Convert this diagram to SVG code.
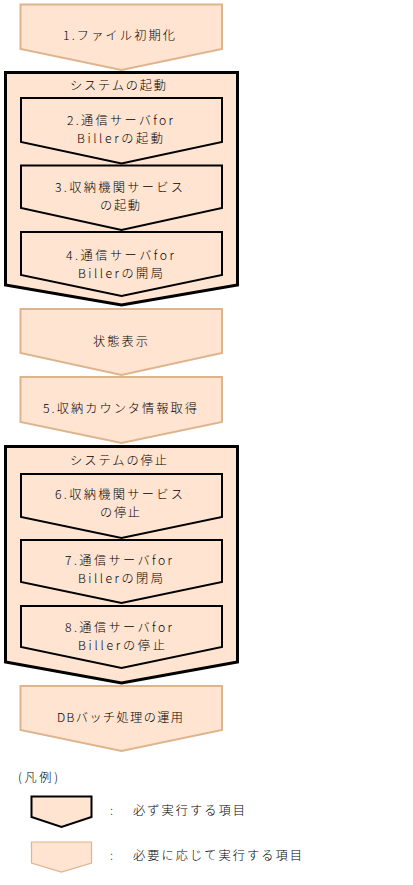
<svg xmlns="http://www.w3.org/2000/svg" width="413" height="885" viewBox="0 0 413 885">
<style>
.opt{fill:#FFE4D1;stroke:#DEB48C;stroke-width:2}
.req{fill:#FFE4D1;stroke:#000;stroke-width:2}
.grp{fill:#FFE4D1;stroke:#000;stroke-width:3}
text{font-family:"Noto Sans CJK JP","Noto Sans",sans-serif;font-size:12.2px;font-weight:300;fill:#000}
</style>
<rect width="413" height="885" fill="#fff"/>
<g id="connectors"/>
<g id="n1">
<path class="opt" d="M20.5,4.5H222V49L121.5,70L20.5,49Z"/>
<text x="63" y="40" textLength="112" lengthAdjust="spacing">1.ファイル初期化</text>
</g>
<g id="g1">
<path class="grp" d="M5.5,72.5H237.5V285L121.5,305L5.5,285Z"/>
<text x="70" y="90" textLength="96" lengthAdjust="spacing">システムの起動</text>
</g>
<g id="n2">
<path class="req" d="M21,98H222V142L121.5,163.5L21,142Z"/>
<text x="67" y="125" textLength="106" lengthAdjust="spacing">2.通信サーバfor</text>
<text x="77" y="143" textLength="86" lengthAdjust="spacing">Billerの起動</text>
</g>
<g id="n3">
<path class="req" d="M21,165.5H222V208L121.5,230L21,208Z"/>
<text x="55" y="192" textLength="128" lengthAdjust="spacing">3.収納機関サービス</text>
<text x="100" y="210" textLength="40" lengthAdjust="spacing">の起動</text>
</g>
<g id="n4">
<path class="req" d="M21,232H222V275L121.5,296L21,275Z"/>
<text x="66" y="260" textLength="108" lengthAdjust="spacing">4.通信サーバfor</text>
<text x="78" y="278" textLength="85" lengthAdjust="spacing">Billerの開局</text>
</g>
<g id="n_status">
<path class="opt" d="M20.5,309H222V353L121.5,375L20.5,353Z"/>
<text x="93" y="346" textLength="55" lengthAdjust="spacing">状態表示</text>
</g>
<g id="n5">
<path class="opt" d="M20.5,377H222V422L121.5,443L20.5,422Z"/>
<text x="43" y="413" textLength="154" lengthAdjust="spacing">5.収納カウンタ情報取得</text>
</g>
<g id="g2">
<path class="grp" d="M5.5,446.5H237.5V662L121.5,683L5.5,662Z"/>
<text x="70" y="465" textLength="97" lengthAdjust="spacing">システムの停止</text>
</g>
<g id="n6">
<path class="req" d="M21,474H222V517L121.5,538L21,517Z"/>
<text x="55" y="499" textLength="128" lengthAdjust="spacing">6.収納機関サービス</text>
<text x="100" y="517" textLength="40" lengthAdjust="spacing">の停止</text>
</g>
<g id="n7">
<path class="req" d="M21,540H222V582L121.5,603L21,582Z"/>
<text x="65" y="565" textLength="107" lengthAdjust="spacing">7.通信サーバfor</text>
<text x="78" y="583" textLength="85" lengthAdjust="spacing">Billerの閉局</text>
</g>
<g id="n8">
<path class="req" d="M21,606H222V647L121.5,668L21,647Z"/>
<text x="65" y="632" textLength="107" lengthAdjust="spacing">8.通信サーバfor</text>
<text x="78" y="650" textLength="87" lengthAdjust="spacing">Billerの停止</text>
</g>
<g id="n_db">
<path class="opt" d="M20.5,686H222V730L121.5,751L20.5,730Z"/>
<text x="57" y="722" textLength="126" lengthAdjust="spacing">DBバッチ処理の運用</text>
</g>
<g id="legend">
<text x="18" y="782" textLength="40" lengthAdjust="spacing">(凡例)</text>
<path class="req" d="M31.5,796.5H91.5V817L61.5,827L31.5,817Z"/>
<text x="110" y="815">:</text>
<text x="133" y="815" textLength="112" lengthAdjust="spacing">必ず実行する項目</text>
<path class="opt" d="M31.5,842H91.5V863L61.5,872L31.5,863Z" style="stroke-width:1.2"/>
<text x="110" y="860">:</text>
<text x="133" y="860" textLength="169" lengthAdjust="spacing">必要に応じて実行する項目</text>
</g>
</svg>
